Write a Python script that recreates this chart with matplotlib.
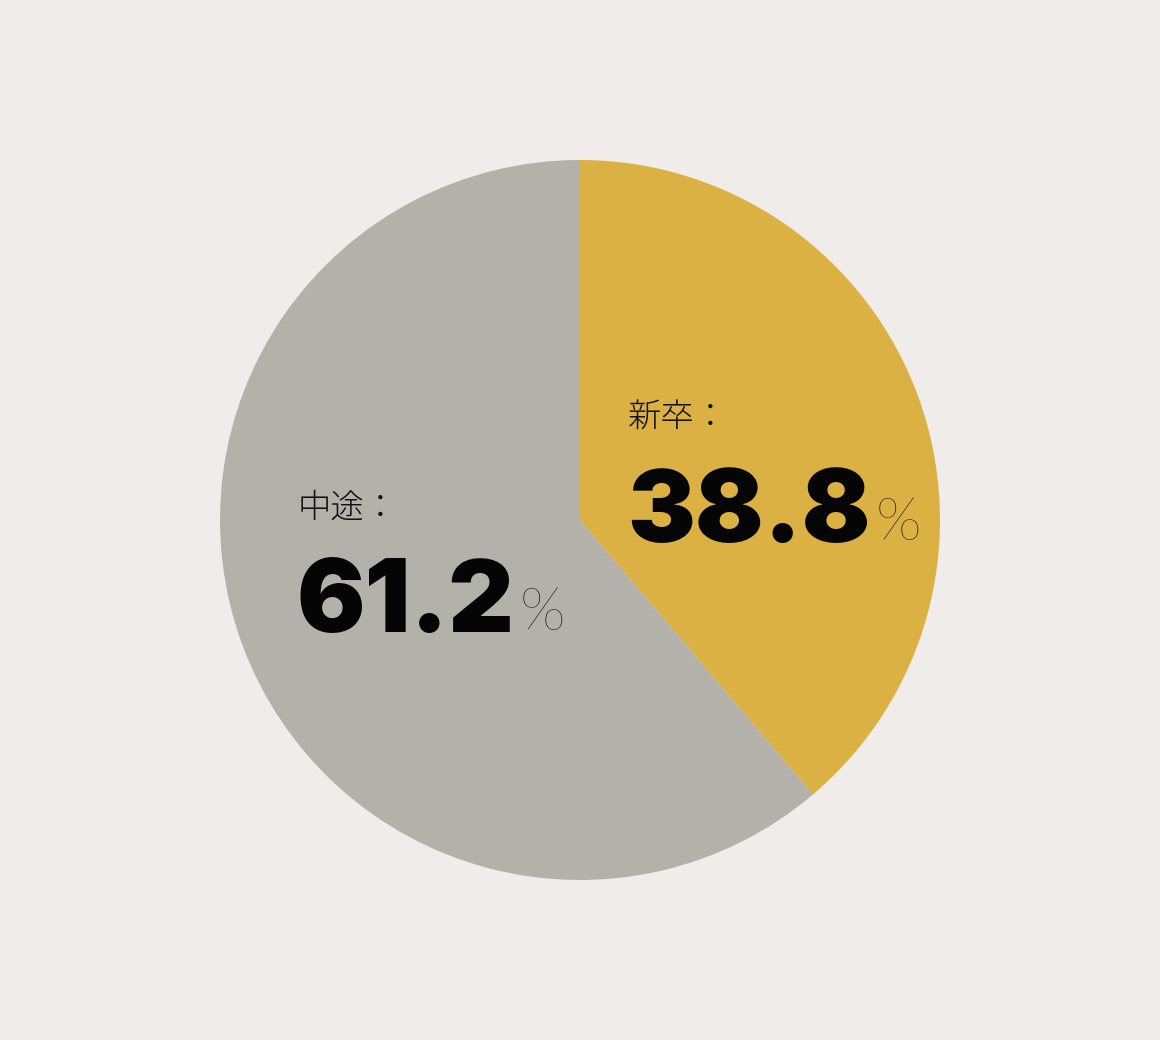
import matplotlib
matplotlib.use("Agg")
import matplotlib.pyplot as plt

# データ
labels = ["新卒：", "中途："]
values = [38.8, 61.2]
colors = ["#dcb144", "#b4b1ab"]
bg = "#f0ecea"

plt.rcParams['font.family'] = ['Noto Sans CJK JP', 'DejaVu Sans']

fig = plt.figure(figsize=(11.6, 10.4), dpi=100, facecolor=bg)
ax = fig.add_axes([0, 0, 1, 1])
ax.set_facecolor(bg)

# 円グラフ（ピクセル座標、y軸反転なので角度も反転）
ax.pie(values, colors=colors, startangle=-90, counterclock=True,
       center=(580, 520), radius=360, wedgeprops=dict(linewidth=0))
ax.set_xlim(0, 1160)
ax.set_ylim(1040, 0)
ax.set_aspect('equal')
ax.axis('off')

# ラベル位置
label_pos = [(628, 428), (298, 518)]
num_pos = [(627, 542), (297, 632)]

nums = []
for lab, val, (lx, ly), (nx, ny) in zip(labels, values, label_pos, num_pos):
    ax.text(lx, ly, lab, fontsize=24, color="#111111", va='baseline', ha='left',
            family=['Noto Sans CJK JP', 'DejaVu Sans'], fontweight='light')
    t = ax.text(nx, ny, f"{val:.1f}", fontsize=73, color="#050505", va='baseline',
                ha='left', family=['Inter', 'DejaVu Sans'], fontweight='black')
    nums.append((t, ny))

# % を数字の直後に配置
fig.canvas.draw()
r = fig.canvas.get_renderer()
for t, ny in nums:
    bb = t.get_window_extent(r)
    x_data = ax.transData.inverted().transform((bb.x1, 0))[0]
    ax.text(x_data + 5, ny - 2, "%", fontsize=43, color="#111111", va='baseline',
            ha='left', family=['Lato', 'DejaVu Sans'], fontweight='light')

fig.savefig("out.png", dpi=100, facecolor=bg)
